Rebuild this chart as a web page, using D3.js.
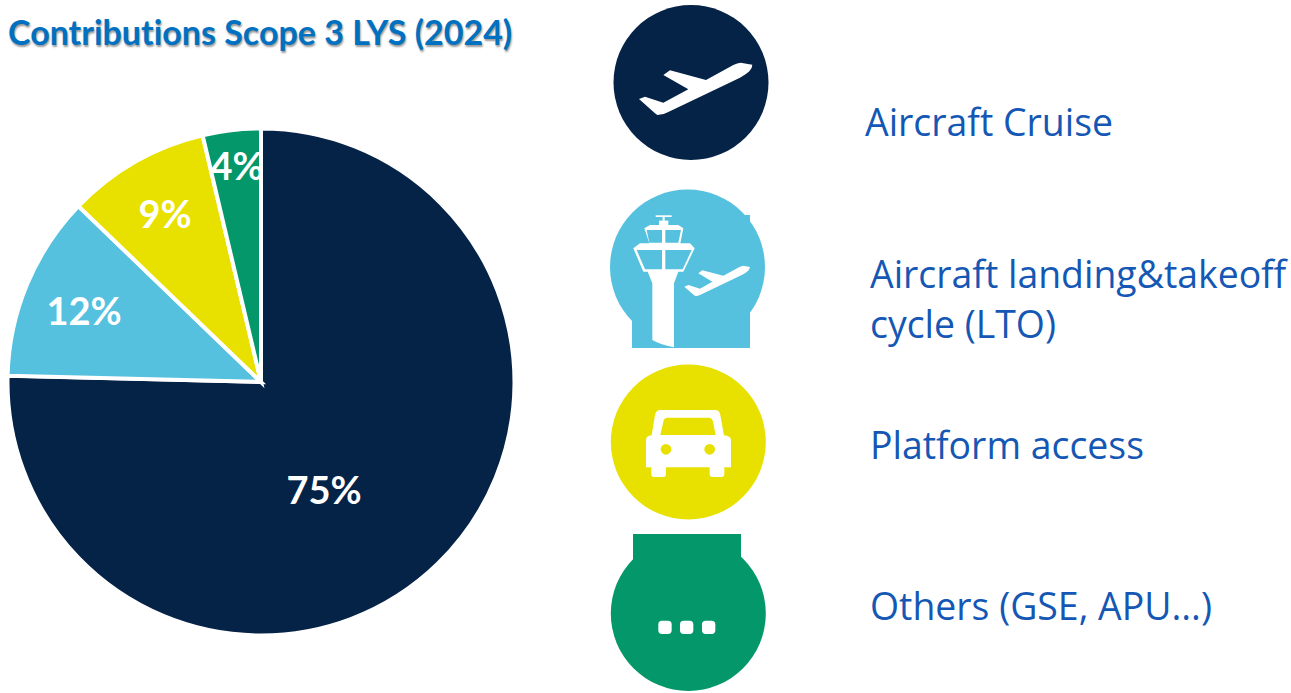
<!DOCTYPE html>
<html><head><meta charset="utf-8">
<script src="https://cdn.jsdelivr.net/npm/d3@7/dist/d3.min.js"></script>
<style>html,body{margin:0;background:#fff}svg{display:block}text{font-family:"Open Sans",Lato,sans-serif}</style>
</head><body><svg id="c" width="1291" height="693"></svg>
<script>
const titleText = "Contributions Scope 3 LYS (2024)";
const categories = ["Aircraft Cruise", "Aircraft landing&takeoff|cycle (LTO)", "Platform access", "Others (GSE, APU...)"];
const shares = [75.4, 11.8, 9.1, 3.7];
const shareLabels = ["75%", "12%", "9%", "4%"];
const colors = ["#052247", "#55c1df", "#e8e100", "#039769"];

const svg = d3.select("#c");
const cx = 261, cy = 382, R = 253.5;
svg.append("text").attr("x", 8).attr("y", 45).attr("fill", "#0070c0")
  .attr("font-size", 34).attr("font-weight", 700)
  .style("font-family", "Lato").style("font-variant-ligatures", "none")
  .style("text-shadow", "1px 2px 2px rgba(0,0,0,.4)").text(titleText);

const pie = d3.pie().sort(null).value(d => d)(shares);
const arc = d3.arc().innerRadius(0).outerRadius(R);
const g = svg.append("g").attr("transform", `translate(${cx},${cy})`);
g.selectAll("path").data(pie).join("path").attr("d", arc)
  .attr("fill", (d, i) => colors[i]).attr("stroke", "#fff").attr("stroke-width", 4);

// label placement relative to the pie centre
const labelOffset = [[63, 109], [-177, -70], [-96, -167], [-24, -215]];
g.selectAll("text").data(pie).join("text")
  .attr("x", (d, i) => labelOffset[i][0]).attr("y", (d, i) => labelOffset[i][1])
  .attr("text-anchor", "middle").attr("dy", "0.35em").attr("fill", "#fff")
  .style("font-family", "Lato")
  .attr("font-size", 38).attr("font-weight", 700).text((d, i) => shareLabels[i]);

// Legend icons
const iconCenters = [[691, 82.5], [687.5, 267], [688.3, 442], [688.3, 613.5]];
const iconR = 77.5;
svg.append("g").selectAll("circle").data(iconCenters).join("circle")
  .attr("cx", d => d[0]).attr("cy", d => d[1]).attr("r", iconR)
  .attr("fill", (d, i) => colors[i]);
const addRect = (x, y, w, h, f) => svg.append("rect").attr("x", x).attr("y", y).attr("width", w).attr("height", h).attr("fill", f);
addRect(632, 300, 118, 48, colors[1]);
addRect(745, 215, 5, 8, colors[1]);
addRect(633, 534, 108, 27, colors[3]);

const glyphsUpper = svg.append("g").attr("transform", "translate(600,0) scale(0.3333)").attr("fill", "#fff");
const glyphsLower = svg.append("g").attr("transform", "translate(600,350) scale(0.3333)").attr("fill", "#fff");
glyphsUpper.append("path").attr("d", "M117,297L135,290L190,308L265,268L190,225L210,211L318,240L400,195Q412,189 422,188L457,194Q457,206 448,214Q438,224 420,233L205,336Q190,345 172,345L165,340Z");
glyphsUpper.append("path").attr("d", "M253,860L265,855L300,866L337,845L295,820L307,811L370,827L420,800L430,797L450,801Q449,812 430,823L300,885Q292,889 285,888Z");
glyphsUpper.append("rect").attr("x", 167).attr("y", 646).attr("width", 48).attr("height", 5);
glyphsUpper.append("rect").attr("x", 188).attr("y", 648).attr("width", 6).attr("height", 16);
glyphsUpper.append("rect").attr("x", 177).attr("y", 662).attr("width", 28).attr("height", 16);
glyphsUpper.append("path").attr("d", "M133,685L150,675L235,675L250,685L241,730L270,730L284,745L250,815L235,815L222,850L222,1042Q185,1036 157,1020L157,850L143,815L130,815L100,745L120,730L148,730Z");
glyphsUpper.append("path").attr("fill", colors[1]).attr("d", "M140,690H186V728H148ZM196,690H243L235,728H196ZM110,750H186V808H135ZM196,750H275L248,808H196Z");

glyphsLower.append("path").attr("fill-rule", "evenodd").attr("d", "M138,270Q138,258 155,256L165,195Q168,180 182,180H345Q358,180 361,195L372,256Q392,258 393,270V352H373V372Q373,381 365,381H338Q329,381 329,372V352H198V372Q198,381 190,381H162Q154,381 154,372V352H138ZM181,255H347L339,215Q337,203 325,203H203Q192,203 190,215Z");
glyphsLower.selectAll("circle.hl").data([198, 329]).join("circle").attr("class", "hl").attr("cx", d => d).attr("cy", 298).attr("r", 16).attr("fill", colors[2]);
glyphsLower.selectAll("rect.dot").data([175, 240, 306]).join("rect").attr("class", "dot").attr("x", d => d).attr("y", 812).attr("width", 40).attr("height", 40).attr("rx", 11);

// Legend text
const legendPos = [[865, 136], [870, 288], [870, 459], [870, 620]];
const legend = svg.append("g").selectAll("text").data(categories).join("text")
  .attr("x", (d, i) => legendPos[i][0]).attr("y", (d, i) => legendPos[i][1])
  .attr("fill", "#1457b4").attr("font-size", 37.4);
legend.selectAll("tspan").data(d => d.split("|")).join("tspan")
  .attr("x", function () { return d3.select(this.parentNode).attr("x"); })
  .attr("dy", (d, i) => i ? 50 : 0).text(d => d);
</script></body></html>
